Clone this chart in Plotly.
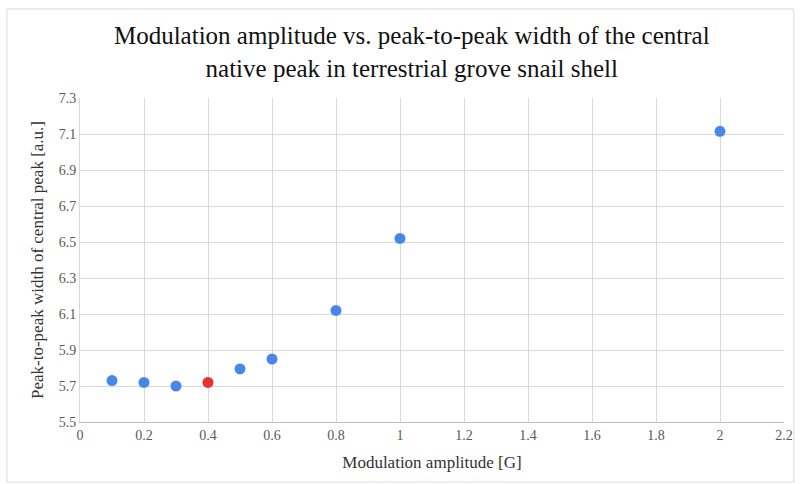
import plotly.graph_objects as go

amplitude = [0.1, 0.2, 0.3, 0.4, 0.5, 0.6, 0.8, 1.0, 2.0]
width = [5.73, 5.72, 5.70, 5.72, 5.795, 5.85, 6.12, 6.52, 7.115]
colors = ["#4A86E8"] * 9
colors[3] = "#E8322B"

x_ticks = [0, 0.2, 0.4, 0.6, 0.8, 1.0, 1.2, 1.4, 1.6, 1.8, 2.0, 2.2]
x_tick_text = ["0", "0.2", "0.4", "0.6", "0.8", "1", "1.2", "1.4", "1.6", "1.8", "2", "2.2"]
y_ticks = [5.5, 5.7, 5.9, 6.1, 6.3, 6.5, 6.7, 6.9, 7.1, 7.3]
y_tick_text = ["5.5", "5.7", "5.9", "6.1", "6.3", "6.5", "6.7", "6.9", "7.1", "7.3"]

font = "Liberation Serif, Times New Roman, serif"

fig = go.Figure()
fig.add_trace(go.Scatter(
    x=amplitude, y=width, mode="markers",
    marker=dict(size=11, color=colors, line=dict(width=0)),
    showlegend=False,
))

W, H = 805, 484
ml, mr, mt, mb = 80, 12, 98, 62
pw, ph = W - ml - mr, H - mt - mb

fig.update_layout(
    width=W, height=H,
    margin=dict(l=ml, r=mr, t=mt, b=mb),
    paper_bgcolor="white", plot_bgcolor="white",
    font=dict(family=font, color="#404040"),
    title=dict(
        text="Modulation amplitude vs. peak-to-peak width of the central<br>native peak in terrestrial grove snail shell",
        x=(416 - ml) / pw, xref="paper", xanchor="center",
        y=1 - 44 / H, yanchor="middle",
        font=dict(family=font, size=25, color="#111111"),
    ),
    xaxis=dict(
        range=[0, 2.2], tickvals=x_ticks, ticktext=x_tick_text,
        showgrid=True, gridcolor="#D9D9D9", gridwidth=1,
        zeroline=False, showline=True, linecolor="#BFBFBF", linewidth=1,
        ticks="", tickfont=dict(family=font, size=14, color="#595959"),
        title=dict(text="Modulation amplitude [G]", font=dict(family=font, size=17, color="#333333"), standoff=14),
        fixedrange=True,
    ),
    yaxis=dict(
        range=[5.5, 7.3], tickvals=y_ticks, ticktext=y_tick_text,
        showgrid=True, gridcolor="#D9D9D9", gridwidth=1,
        zeroline=False, showline=True, linecolor="#D9D9D9", linewidth=1,
        ticks="", tickfont=dict(family=font, size=14, color="#595959"),
        title=dict(text="Peak-to-peak width of central peak [a.u.]", font=dict(family=font, size=17, color="#333333"), standoff=10),
        fixedrange=True,
    ),
)

# outer chart border
fig.add_shape(
    type="rect", xref="paper", yref="paper",
    x0=(6 - ml) / pw, x1=(803 - ml) / pw,
    y0=1 - (482 - mt) / ph, y1=1 + (mt - 9) / ph,
    line=dict(color="#D9D9D9", width=1), fillcolor="rgba(0,0,0,0)", layer="below",
)

fig.write_html("out.html")
